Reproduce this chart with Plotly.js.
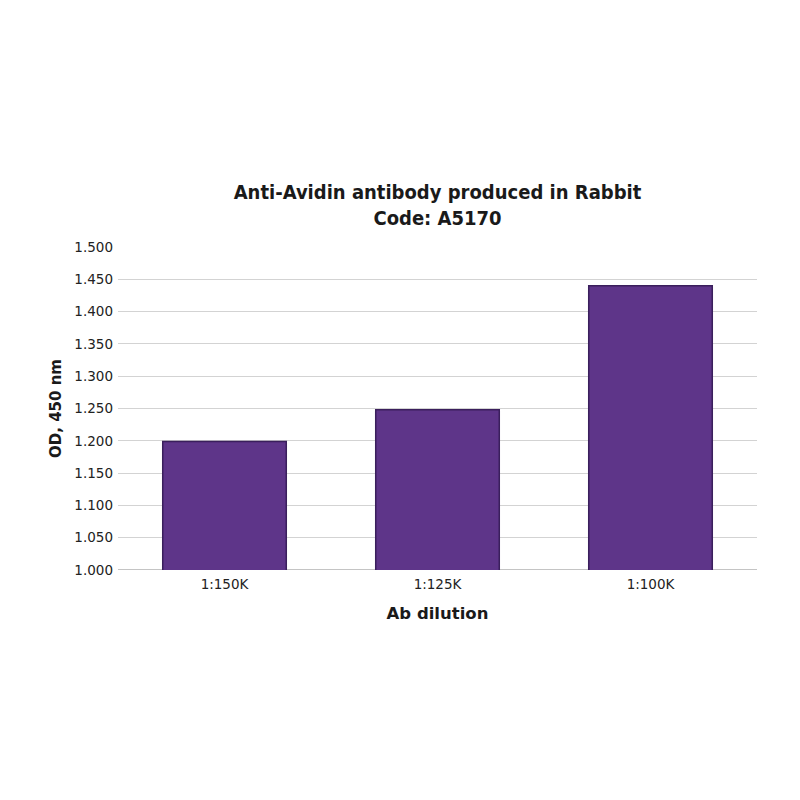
<!DOCTYPE html>
<html>
<head>
<meta charset="utf-8">
<script src="https://cdn.plot.ly/plotly-3.0.1.min.js"></script>
<style>html,body{margin:0;padding:0;background:#fff;}#chart{width:800px;height:800px;}</style>
</head>
<body>
<div id="chart"></div>
<script>
const categories = ["1:150K", "1:125K", "1:100K"];
const odValues = [1.199, 1.248, 1.440];
const yTickValues = [1.0, 1.05, 1.1, 1.15, 1.2, 1.25, 1.3, 1.35, 1.4, 1.45, 1.5];
const yTickLabels = ["1.000", "1.050", "1.100", "1.150", "1.200", "1.250", "1.300", "1.350", "1.400", "1.450", "1.500"];

const trace = {
  type: "bar",
  x: categories,
  y: odValues,
  marker: { color: "#5e3589", line: { color: "#3a1f5c", width: 1.5 } },
  hoverinfo: "x+y"
};

const layout = {
  width: 800, height: 800,
  paper_bgcolor: "#ffffff", plot_bgcolor: "#ffffff",
  margin: { l: 118, r: 43, t: 247, b: 230 },
  bargap: 0.42,
  showlegend: false,
  font: { family: "DejaVu Sans, Verdana, sans-serif", color: "#222222", size: 13.5 },
  title: {
    text: "<b>Anti-Avidin antibody produced in Rabbit<br>Code: A5170</b>",
    font: { family: "DejaVu Sans Condensed, DejaVu Sans, sans-serif", size: 20, color: "#1a1a1a" },
    x: 0.5, xanchor: "center", xref: "paper",
    y: 1 - 199 / 800, yanchor: "middle", yref: "container"
  },
  xaxis: {
    type: "category",
    showgrid: false, zeroline: false, showline: false,
    ticks: "", tickfont: { size: 13.5, color: "#222222" },
    ticklabelstandoff: 4,
    title: { text: "<b>Ab dilution</b>", font: { size: 16.5, color: "#1a1a1a" }, standoff: 16 }
  },
  yaxis: {
    range: [1.0, 1.5],
    tickvals: yTickValues,
    ticktext: yTickLabels,
    showgrid: true, gridcolor: "#d3d3d3", gridwidth: 1,
    zeroline: false, showline: false,
    ticks: "",
    tickfont: { size: 13.5, color: "#222222" },
    ticklabelstandoff: 4,
    title: { text: "<b>OD, 450 nm</b>", font: { size: 15, color: "#1a1a1a" }, standoff: 9 }
  },
  shapes: [{
    type: "line", xref: "paper", yref: "y", x0: 0, x1: 1, y0: yTickValues[0], y1: yTickValues[0],
    line: { color: "#c4c4c4", width: 2 }, layer: "below"
  }]
};

Plotly.newPlot("chart", [trace], layout, { displayModeBar: false, staticPlot: true });
</script>
</body>
</html>
